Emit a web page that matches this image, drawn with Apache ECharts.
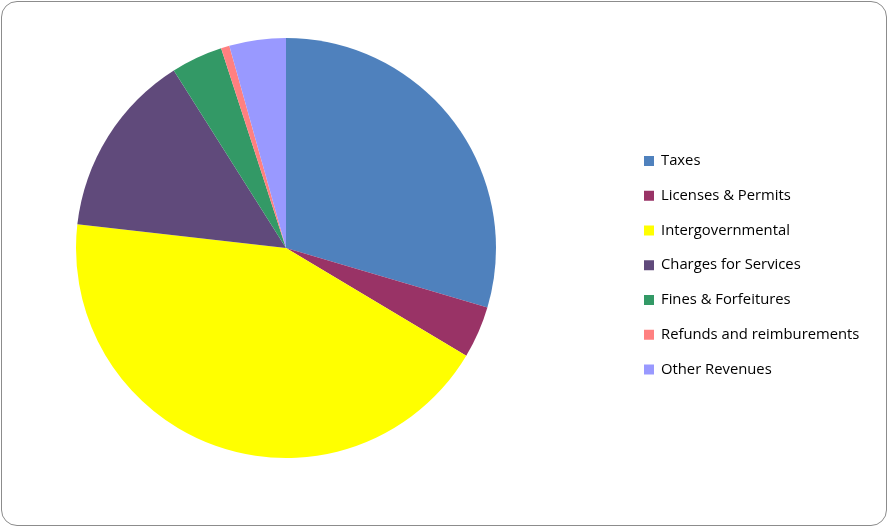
<!DOCTYPE html>
<html>
<head>
<meta charset="utf-8">
<script src="https://cdn.jsdelivr.net/npm/echarts@6/dist/echarts.min.js"></script>
<style>
  html, body { margin: 0; padding: 0; background: #fff; }
  #frame { position: absolute; left: 1px; top: 1px; width: 884px; height: 523px; border: 1px solid #8c8c8c; border-radius: 16px; overflow: hidden; background: #fff; }
  #chart { width: 888px; height: 527px; position: absolute; left: -2px; top: -2px; }
</style>
</head>
<body>
<div id="frame"><div id="chart"></div></div>
<script>
const categories = ["Taxes", "Licenses & Permits", "Intergovernmental", "Charges for Services", "Fines & Forfeitures", "Refunds and reimburements", "Other Revenues"];
const values = [29.57, 4.00, 43.22, 14.23, 3.97, 0.65, 4.35];
const colors = ["#4F81BD", "#993366", "#FFFF00", "#604A7B", "#339966", "#FF8080", "#9999FF"];

const chart = echarts.init(document.getElementById('chart'), null, { renderer: 'canvas' });
chart.setOption({
  animation: false,
  color: colors,
  legend: {
    orient: 'vertical',
    left: 644,
    top: 151,
    padding: 0,
    icon: 'rect',
    itemWidth: 10,
    itemHeight: 10,
    itemGap: 14.75,
    data: categories,
    textStyle: { fontFamily: 'Open Sans', fontSize: 14.8, color: '#000', lineHeight: 20, padding: [0, 0, 0, 2] }
  },
  series: [{
    type: 'pie',
    center: [286, 248],
    radius: 210,
    startAngle: 90,
    clockwise: true,
    label: { show: false },
    labelLine: { show: false },
    itemStyle: { borderWidth: 0 },
    emphasis: { disabled: true },
    data: categories.map((c, i) => ({ name: c, value: values[i] }))
  }]
});
</script>
</body>
</html>
